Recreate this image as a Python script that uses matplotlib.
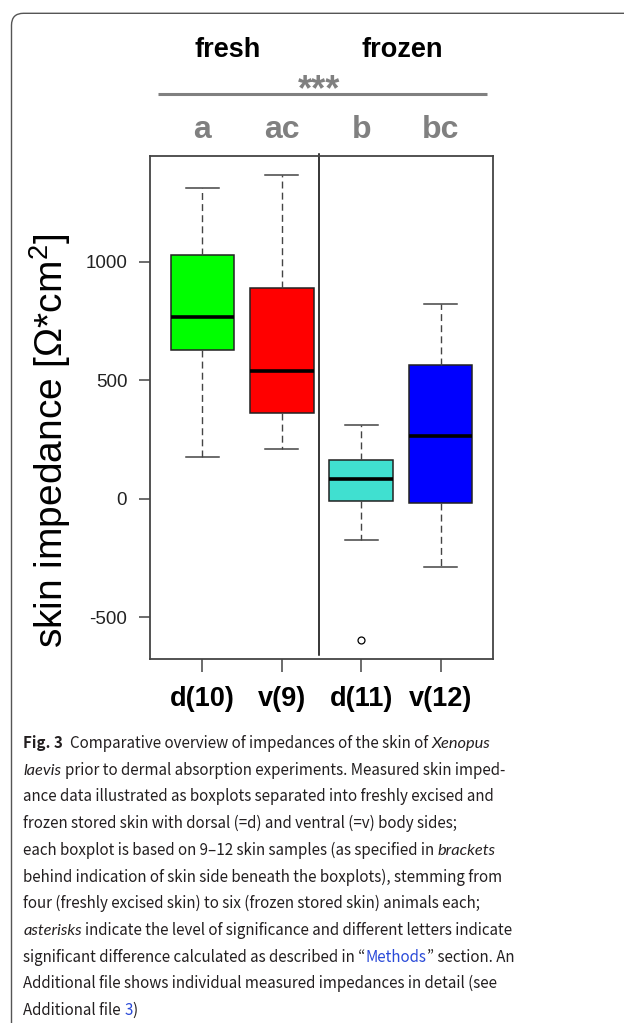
import matplotlib
matplotlib.use("Agg")
import matplotlib.pyplot as plt
from matplotlib import font_manager
from matplotlib.patches import FancyBboxPatch
from matplotlib.transforms import IdentityTransform

# data
groups = ["d(10)", "v(9)", "d(11)", "v(12)"]
letters = ["a", "ac", "b", "bc"]
conditions = ["fresh", "frozen"]
box_colors = ["#00ff00", "#ff0000", "#40e0d0", "#0000ff"]
whislo = [176, 211, -173, -289]
q1 = [627, 363, -11, -17]
med = [766, 540, 83, 263]
q3 = [1027, 890, 162, 565]
whishi = [1311, 1366, 309, 822]
fliers = [[], [], [-597], []]
yticks = [-500, 0, 500, 1000]

caption = [
    [("Fig. 3", "b"), ("  ", "n"), ("Comparative overview of impedances of the skin of", "n"), (" ", "n"), ("Xenopus", "i")],
    [("laevis", "i"), (" ", "n"), ("prior to dermal absorption experiments. Measured skin imped-", "n")],
    [("ance data illustrated as boxplots separated into freshly excised and", "n")],
    [("frozen stored skin with dorsal (=d) and ventral (=v) body sides;", "n")],
    [("each boxplot is based on 9\u201312 skin samples (as specified in", "n"), (" ", "n"), ("brackets", "i")],
    [("behind indication of skin side beneath the boxplots), stemming from", "n")],
    [("four (freshly excised skin) to six (frozen stored skin) animals each;", "n")],
    [("asterisks", "i"), (" ", "n"), ("indicate the level of significance and different letters indicate", "n")],
    [("significant difference calculated as described in \u201c", "n"), ("Methods", "l"), ("\u201d section. An", "n")],
    [("Additional file shows individual measured impedances in detail (see", "n")],
    [("Additional file", "n"), (" ", "n"), ("3", "l"), (")", "n")],
]


def has_font(name):
    try:
        font_manager.findfont(font_manager.FontProperties(family=name), fallback_to_default=False)
        return True
    except ValueError:
        return False


head_font = "Liberation Sans"
cap_font = "Noto Sans CJK JP" if has_font("Noto Sans CJK JP") else "Liberation Sans"
cap_it_font = "Lato" if has_font("Lato") else "Liberation Sans"
tick_fs, head_fs, letter_fs, xlab_fs, star_fs = 13.5, 19.5, 23, 19.5, 26

plt.rcParams["font.family"] = "Liberation Sans"
plt.rcParams["mathtext.fontset"] = "custom"
plt.rcParams["mathtext.rm"] = "Liberation Sans"
plt.rcParams["mathtext.it"] = "Liberation Sans:italic"
plt.rcParams["mathtext.bf"] = "Liberation Sans:bold"
plt.rcParams["mathtext.default"] = "regular"

W, H = 624, 1023
fig = plt.figure(figsize=(W / 100, H / 100), dpi=100)
ax = fig.add_axes([150 / W, 1 - 659 / H, 343 / W, 503 / H])

positions = list(range(1, len(groups) + 1))
stats = []
for i, g in enumerate(groups):
    stats.append(dict(label=g, whislo=whislo[i], q1=q1[i], med=med[i], q3=q3[i],
                      whishi=whishi[i], fliers=fliers[i]))

bp = ax.bxp(stats, positions=positions, widths=0.8, capwidths=0.42, patch_artist=True,
            boxprops=dict(edgecolor="#222222", linewidth=1.1),
            medianprops=dict(color="black", linewidth=2.6, solid_capstyle="butt"),
            whiskerprops=dict(color="#444444", linestyle=(0, (5, 3)), linewidth=1.0),
            capprops=dict(color="#444444", linewidth=1.1),
            flierprops=dict(marker="o", markerfacecolor="none", markeredgecolor="black",
                            markersize=5, markeredgewidth=0.9))
for patch, c in zip(bp["boxes"], box_colors):
    patch.set_facecolor(c)

ax.set_xlim(0.34, 4.66)
ax.set_ylim(-676, 1445)
ax.set_yticks(yticks)
ax.set_yticklabels([str(v) for v in yticks], fontsize=tick_fs, family=head_font, color="#222222")
ax.set_xticks(positions)
ax.set_xticklabels(groups, fontsize=xlab_fs, family=head_font, fontweight="bold")
ax.tick_params(axis="y", length=7.9, width=1.1, pad=8.5, color="#444444")
ax.tick_params(axis="x", length=9.4, width=1.1, pad=10, color="#444444")
for s in ax.spines.values():
    s.set_color("#444444")
    s.set_linewidth(1.3)

# separator between fresh and frozen
ax.plot([0.4936, 0.4936], [0.008, 1.0046], transform=ax.transAxes, color="black",
        lw=1.1, clip_on=False)

# headers above the plot
ax.text(0.226, 1.196, conditions[0], transform=ax.transAxes, ha="center", va="baseline",
        fontsize=head_fs, fontweight="bold", family=head_font)
ax.text(0.736, 1.196, conditions[1], transform=ax.transAxes, ha="center", va="baseline",
        fontsize=head_fs, fontweight="bold", family=head_font)
ax.plot([0.0224, 0.983], [1.1227, 1.1227], transform=ax.transAxes, color="#808080",
        lw=2.2, clip_on=False, solid_capstyle="butt")
ax.text(0.493, 1.110, "***", transform=ax.transAxes, ha="center", va="baseline",
        fontsize=star_fs, fontweight="bold", family=head_font, color="#808080")
for p, l in zip(positions, letters):
    ax.text(p, 1.035, l, transform=ax.get_xaxis_transform(), ha="center", va="baseline",
            fontsize=letter_fs, fontweight="bold", family=head_font, color="#808080")

fig.text(50 / W, 1 - 441 / H, "skin impedance [\u03a9*cm$^{2}$]", rotation=90,
         ha="center", va="center", fontsize=28)

# outer frame
frame = FancyBboxPatch((11.5, -40), 700, H - 13.3 + 40,
                       boxstyle="round,pad=0,rounding_size=12",
                       transform=IdentityTransform(), fill=False,
                       edgecolor="#555555", linewidth=1.0)
fig.add_artist(frame)

# caption
r = fig.canvas.get_renderer()


def seg_props(style, size):
    d = dict(family=cap_font, size=size, color="#231f20")
    if style == "b":
        d["weight"] = "bold"
    if style == "i":
        d["family"] = cap_it_font
        d["style"] = "italic"
        d["size"] = size * 1.08
    if style == "l":
        d["color"] = "#2a4ad8"
    return d


def width_of(s, props):
    t = fig.text(0, 0, s, transform=IdentityTransform(), **props)
    w = t.get_window_extent(r).width
    t.remove()
    return w


def space_of(props):
    return width_of("a a", props) - width_of("aa", props)


def seg_width(s, style, size):
    props = seg_props(style, size)
    core = s.strip(" ")
    nsp = len(s) - len(core)
    return (width_of(core, props) if core else 0) + nsp * space_of(seg_props("n", size))


def line_width(line, size):
    return sum(seg_width(s, st, size) for s, st in line)


cap_fs = 10 * 492 / line_width(caption[7], 10)
x0 = 23.3
for i, line in enumerate(caption):
    y = H - (748 + i * 26.7)
    x = x0
    for s, st in line:
        core = s.strip(" ")
        if core:
            lead = len(s) - len(s.lstrip(" "))
            props = seg_props(st, cap_fs)
            fig.text(x + lead * space_of(seg_props("n", cap_fs)), y, core,
                     transform=IdentityTransform(), ha="left", va="baseline", **props)
        x += seg_width(s, st, cap_fs)

fig.savefig("out.png", dpi=100)
